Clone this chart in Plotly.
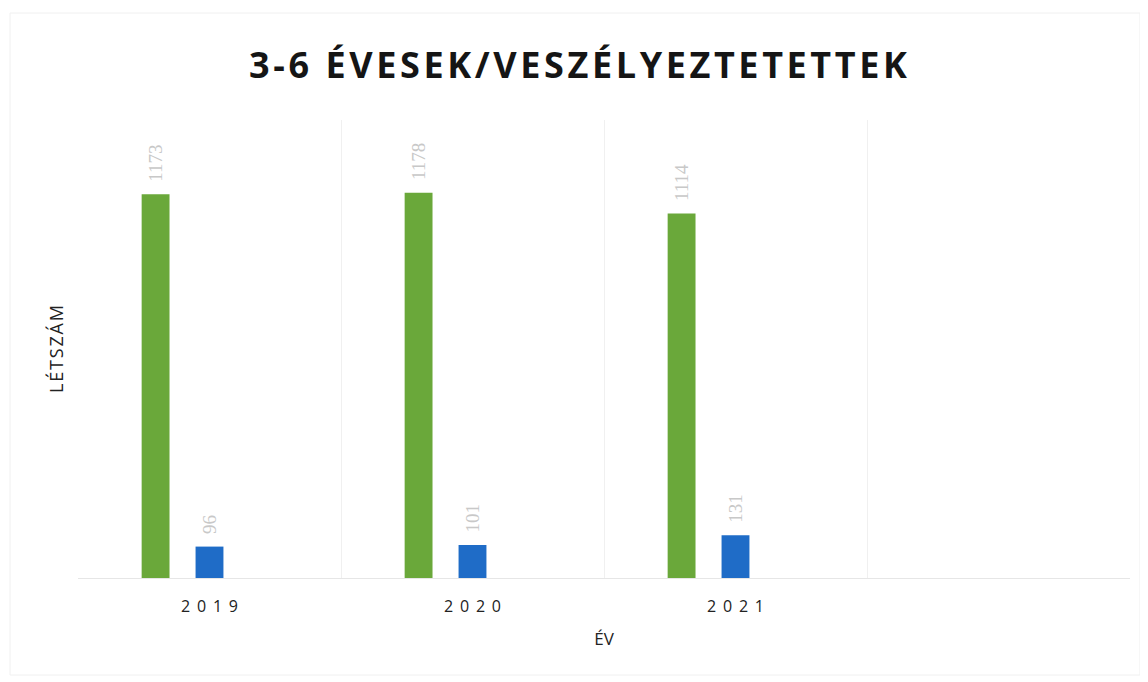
import plotly.graph_objects as go

years = ["2019", "2020", "2021"]
green_values = [1173, 1178, 1114]
blue_values = [96, 101, 131]
title_text = "3-6 ÉVESEK/VESZÉLYEZTETETTEK"
x_title = "ÉV"
y_title = "LÉTSZÁM"

xpos = list(range(len(years)))
bw = 0.106
HS = "\u200a"  # hair space for letter spacing


def spaced(s, sep):
    return sep.join(list(s))


label_font = dict(family="Liberation Serif", size=19, color="#c8c8c8")
pad = "\u00a0\u00a0"

fig = go.Figure()
fig.add_trace(go.Bar(
    x=xpos, y=green_values, width=bw, offset=-0.258,
    marker=dict(color="#6aa83a", line=dict(width=0)),
    text=[pad + str(v) for v in green_values], textposition="outside",
    textangle=-90, cliponaxis=False, constraintext="none", textfont=label_font,
    showlegend=False,
))
fig.add_trace(go.Bar(
    x=xpos, y=blue_values, width=bw, offset=-0.053,
    marker=dict(color="#1f6cc7", line=dict(width=0)),
    text=[pad + str(v) for v in blue_values], textposition="outside",
    textangle=-90, cliponaxis=False, constraintext="none", textfont=label_font,
    showlegend=False,
))

fig.update_layout(
    width=1140, height=674,
    paper_bgcolor="white", plot_bgcolor="white",
    margin=dict(l=70, r=18, t=112, b=104),
    title=dict(text="<b>" + spaced(title_text, HS) + "</b>", x=0.5, xanchor="center",
               y=0.915, yanchor="middle",
               font=dict(family="Open Sans", size=36, color="#151515")),
    barmode="overlay",
    font=dict(family="Open Sans", color="#222222"),
    xaxis=dict(
        range=[-0.5, 3.5],
        tickmode="array", tickvals=xpos,
        ticktext=[spaced(y, " \u2009") for y in years],
        tickfont=dict(family="Open Sans", size=16, color="#222222"),
        showgrid=False, zeroline=False,
        ticks="outside", ticklen=14, tickcolor="rgba(0,0,0,0)",
        showline=True, linecolor="#e6e6e6", linewidth=1,
        minor=dict(tickmode="array", tickvals=[-0.5, 0.5, 1.5, 2.5, 3.5],
                   showgrid=True, gridcolor="#f0f0f0", gridwidth=1, ticks=""),
        title=dict(text=x_title, font=dict(family="Open Sans", size=17, color="#222222"),
                   standoff=16),
    ),
    yaxis=dict(
        range=[0, 1400], showgrid=False, zeroline=False, showticklabels=False,
        ticks="", showline=False,
        title=dict(text=spaced(y_title, HS),
                   font=dict(family="Open Sans", size=18, color="#222222"),
                   standoff=8),
    ),
    shapes=[dict(type="rect", xref="paper", yref="paper", x0=-0.0646, x1=1.0095,
                 y0=-0.2118, y1=1.2336, line=dict(color="#f0f0f0", width=1))],
)

fig.write_html("out.html")
